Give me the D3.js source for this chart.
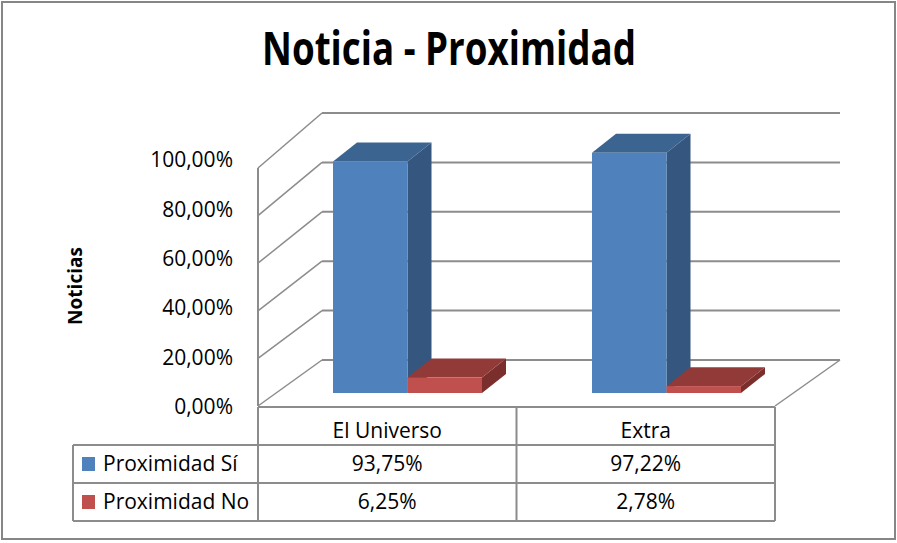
<!DOCTYPE html>
<html>
<head>
<meta charset="utf-8">
<script src="https://cdn.jsdelivr.net/npm/d3@7"></script>
<style>
    body { margin: 0; background: #fff; }
    text { font-family: "Open Sans", "Noto Sans", sans-serif; fill: #000; }
</style>
</head>
<body>
<svg id="chart" width="897" height="543"></svg>
<script>
const categories = ["El Universo", "Extra"];
const seriesNames = ["Proximidad Sí", "Proximidad No"];
const siValues = [93.75, 97.22];
const noValues = [6.25, 2.78];
const yTicks = [0, 20, 40, 60, 80, 100];
const seriesColors = ["#4f81bd", "#c0504d"];
const seriesTops = ["#3c6491", "#923a38"];
const seriesSides = ["#34567f", "#7b2f2d"];

const svg = d3.select("#chart");
const gridColor = "#8c8c8c";

const locale = d3.formatLocale({decimal: ",", thousands: ".", grouping: [3], currency: ["", "€"]});
const pct = locale.format(".2f");

// outer frame
svg.append("rect")
    .attr("x", 2).attr("y", 2)
    .attr("width", 893).attr("height", 537)
    .attr("fill", "#fff")
    .attr("stroke", "#868686")
    .attr("stroke-width", 2);

// title
svg.append("text")
    .attr("x", 449)
    .attr("y", 65)
    .attr("text-anchor", "middle")
    .attr("font-size", "46px")
    .attr("font-weight", "bold")
    .attr("textLength", 374)
    .attr("lengthAdjust", "spacingAndGlyphs")
    .text("Noticia - Proximidad");

// 3d frame: front plane, back wall, bars plane (perspective)
let front = {x0: 258, x1: 775};
let back = {x0: 322, x1: 840};
let yFront = d3.scaleLinear().domain([0, 100]).range([406, 168]);
let yBack = d3.scaleLinear().domain([0, 100]).range([360, 113]);
let yBar = d3.scaleLinear().domain([0, 100]).range([393, 146]);
let yLabel = d3.scaleLinear().domain([0, 100]).range([407, 160]);

let walls = svg.append("g")
    .attr("stroke", gridColor)
    .attr("stroke-width", 2)
    .attr("fill", "none");

// back wall gridlines + side wall diagonals
yTicks.forEach(v => {
    walls.append("line")
        .attr("x1", back.x0).attr("x2", back.x1)
        .attr("y1", yBack(v)).attr("y2", yBack(v));
    walls.append("line")
        .attr("x1", front.x0).attr("x2", back.x0)
        .attr("y1", yFront(v)).attr("y2", yBack(v))
        .attr("stroke-width", 1.5);
});

// side wall front edge
walls.append("line")
    .attr("x1", front.x0).attr("x2", front.x0)
    .attr("y1", yFront(100)).attr("y2", yFront(0));

// floor right edge
walls.append("line")
    .attr("x1", front.x1).attr("x2", back.x1)
    .attr("y1", yFront(0)).attr("y2", yBack(0))
    .attr("stroke-width", 1.5);

// y axis labels
let yAxis = svg.append("g")
    .attr("transform", "translate(235,0)")
    .call(d3.axisLeft(yLabel).tickValues(yTicks).tickSize(0).tickPadding(2)
        .tickFormat(d => pct(d) + "%"));
yAxis.select(".domain").remove();
yAxis.selectAll("text")
    .attr("font-family", "'Open Sans', sans-serif")
    .attr("font-size", "21px")
    .attr("fill", "#000");

// y title
svg.append("text")
    .attr("transform", "translate(82,286) rotate(-90)")
    .attr("text-anchor", "middle")
    .attr("font-size", "19px")
    .attr("font-weight", "bold")
    .text("Noticias");

// bars
let x = d3.scaleBand().domain(categories).range([278, 796]);
let groupW = 149;
let xSub = d3.scaleBand().domain(seriesNames)
    .range([(x.bandwidth() - groupW) / 2, (x.bandwidth() + groupW) / 2]);
let depth = {dx: 24, dy: -19};

let allSeries = [siValues, noValues];
let bars = svg.append("g");
categories.forEach((c, ci) => {
    allSeries.forEach((vals, si) => {
        let x0 = x(c) + xSub(seriesNames[si]);
        let x1 = x0 + xSub.bandwidth();
        let yt = yBar(vals[ci]);
        let yb = yBar(0);
        // side face
        bars.append("path")
            .attr("d", `M${x1},${yb}L${x1 + depth.dx},${yb + depth.dy}L${x1 + depth.dx},${yt + depth.dy}L${x1},${yt}Z`)
            .attr("fill", seriesSides[si]);
        // top face
        bars.append("path")
            .attr("d", `M${x0},${yt}L${x0 + depth.dx},${yt + depth.dy}L${x1 + depth.dx},${yt + depth.dy}L${x1},${yt}Z`)
            .attr("fill", seriesTops[si]);
        // front face
        bars.append("rect")
            .attr("x", x0).attr("y", yt)
            .attr("width", xSub.bandwidth())
            .attr("height", yb - yt)
            .attr("fill", seriesColors[si]);
    });
});

// data table
let xTable = d3.scaleBand().domain(categories).range([front.x0, front.x1]);
let rows = ["header"].concat(seriesNames);
let yTable = d3.scaleBand().domain(rows).range([407, 521]);
let legendX = 73;

let table = svg.append("g")
    .attr("stroke", gridColor)
    .attr("stroke-width", 2);

// horizontal lines
table.append("line")
    .attr("x1", front.x0).attr("x2", front.x1)
    .attr("y1", yTable("header")).attr("y2", yTable("header"));
seriesNames.forEach(s => {
    table.append("line")
        .attr("x1", legendX).attr("x2", front.x1)
        .attr("y1", yTable(s)).attr("y2", yTable(s));
});
table.append("line")
    .attr("x1", legendX).attr("x2", front.x1)
    .attr("y1", yTable.range()[1]).attr("y2", yTable.range()[1]);

// vertical lines
table.append("line")
    .attr("x1", legendX).attr("x2", legendX)
    .attr("y1", yTable(seriesNames[0])).attr("y2", yTable.range()[1]);
categories.forEach(c => {
    table.append("line")
        .attr("x1", xTable(c)).attr("x2", xTable(c))
        .attr("y1", yTable("header")).attr("y2", yTable.range()[1]);
});
table.append("line")
    .attr("x1", front.x1).attr("x2", front.x1)
    .attr("y1", yTable("header")).attr("y2", yTable.range()[1]);

// header text
categories.forEach(c => {
    svg.append("text")
        .attr("x", xTable(c) + xTable.bandwidth() / 2)
        .attr("y", yTable("header") + yTable.bandwidth() / 2 + 5)
        .attr("dy", "0.35em")
        .attr("text-anchor", "middle")
        .attr("font-size", "21px")
        .text(c);
});

// rows
seriesNames.forEach((s, si) => {
    let cy = yTable(s) + yTable.bandwidth() / 2;
    svg.append("rect")
        .attr("x", 82).attr("y", cy - 7)
        .attr("width", 13).attr("height", 14)
        .attr("fill", seriesColors[si]);
    svg.append("text")
        .attr("x", 103)
        .attr("y", cy)
        .attr("dy", "0.35em")
        .attr("font-size", "21px")
        .text(s);
    categories.forEach((c, ci) => {
        svg.append("text")
            .attr("x", xTable(c) + xTable.bandwidth() / 2)
            .attr("y", cy)
            .attr("dy", "0.35em")
            .attr("text-anchor", "middle")
            .attr("font-size", "21px")
            .text(pct(allSeries[si][ci]) + "%");
    });
});
</script>
</body>
</html>
